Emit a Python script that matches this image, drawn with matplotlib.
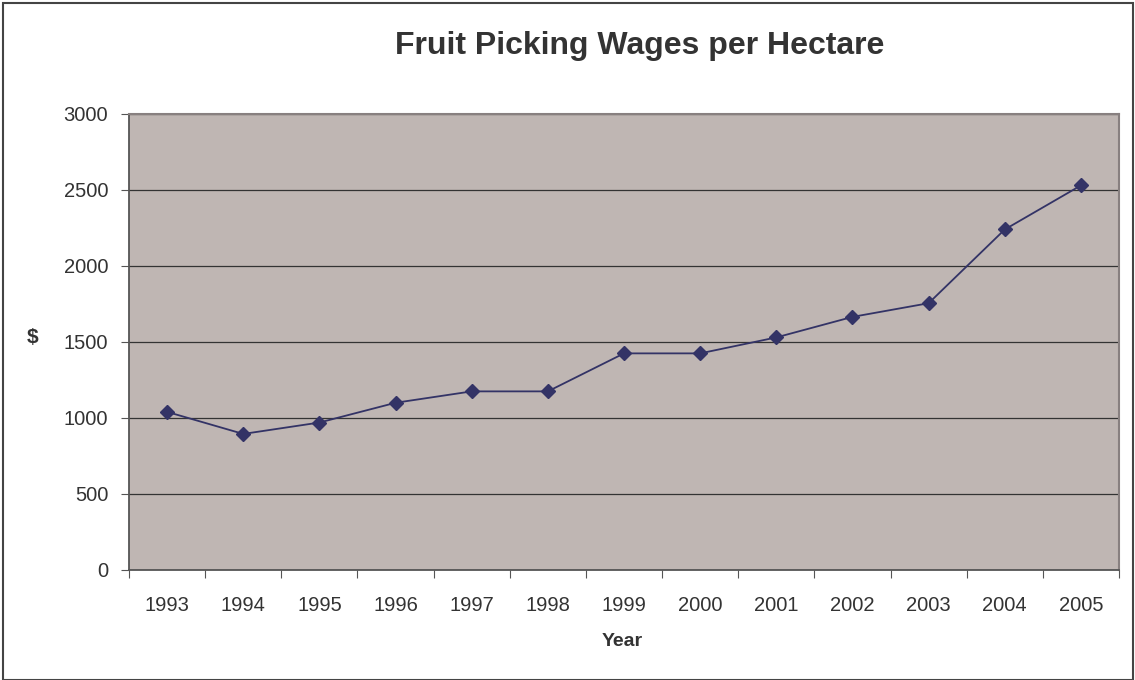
import matplotlib.pyplot as plt
from matplotlib.patches import Rectangle
from matplotlib.ticker import FixedLocator, NullFormatter

plt.rcParams['font.family'] = ['Liberation Sans', 'DejaVu Sans']

years = ['1993', '1994', '1995', '1996', '1997', '1998', '1999',
         '2000', '2001', '2002', '2003', '2004', '2005']
wages = [1040, 895, 970, 1100, 1175, 1175, 1425,
         1425, 1530, 1665, 1755, 2240, 2530]

fig = plt.figure(figsize=(11.35, 6.8), dpi=100)
ax = fig.add_axes([0.1137, 0.1618, 0.8722, 0.6706])
ax.set_facecolor('#bfb6b3')

x = list(range(len(years)))
ax.plot(x, wages, color='#333366', linewidth=1.3, marker='D',
        markersize=7, markerfacecolor='#333366', markeredgecolor='#333366',
        zorder=3)

ax.set_xlim(-0.5, len(years) - 0.5)
ax.set_ylim(0, 3000)
ax.set_yticks(range(0, 3001, 500))
ax.yaxis.grid(True, color='#333333', linewidth=0.9)
ax.set_axisbelow(True)

# category ticks sit between categories, labels centred
ax.xaxis.set_major_locator(FixedLocator([i - 0.5 for i in range(len(years) + 1)]))
ax.xaxis.set_major_formatter(NullFormatter())
ax.xaxis.set_minor_locator(FixedLocator(x))
ax.set_xticklabels(years, minor=True)
ax.tick_params(axis='x', which='minor', length=0, pad=19, labelsize=14.5,
               labelcolor='#333333')
ax.tick_params(axis='x', which='major', length=6, color='#555555', direction='out')
ax.tick_params(axis='y', length=6, color='#555555', labelsize=14.5,
               labelcolor='#333333', pad=9)

for side in ['top', 'right']:
    ax.spines[side].set_color('#888080')
    ax.spines[side].set_linewidth(1.5)
for side in ['left', 'bottom']:
    ax.spines[side].set_color('#555555')
    ax.spines[side].set_linewidth(1.3)

fig.text(0.5635, 0.933, 'Fruit Picking Wages per Hectare', ha='center',
         va='center', fontsize=23, fontweight='bold', color='#333333')
fig.text(0.029, 0.504, '$', ha='center', va='center', fontsize=15,
         fontweight='bold', color='#333333')
fig.text(0.548, 0.057, 'Year', ha='center', va='center', fontsize=14,
         fontweight='bold', color='#333333')

fig.patches.append(Rectangle((0.003, 0.0), 0.995, 0.996, transform=fig.transFigure,
                             fill=False, edgecolor='#444444', linewidth=1.5))

fig.savefig('out.png', dpi=100)
